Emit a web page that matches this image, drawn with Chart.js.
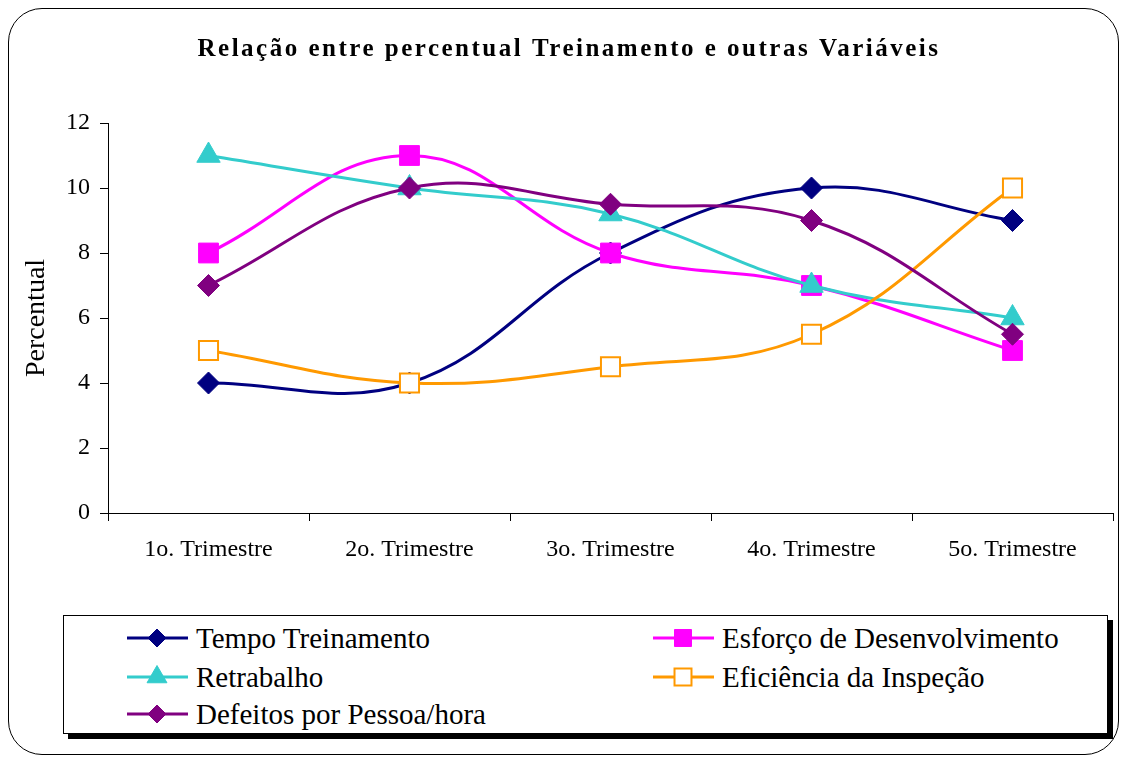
<!DOCTYPE html>
<html>
<head>
<meta charset="utf-8">
<script src="https://cdn.jsdelivr.net/npm/chart.js@4.4.1/dist/chart.umd.min.js"></script>
<style>
  html,body{margin:0;padding:0;background:#fff;}
  body{width:1122px;height:757px;position:relative;overflow:hidden;font-family:"Liberation Serif","Times New Roman",serif;}
  #frame{position:absolute;left:8px;top:8px;width:1111px;height:747px;border:1px solid #000;border-radius:34px;box-sizing:border-box;}
  #wrap{position:absolute;left:0;top:0;width:1122px;height:600px;}
  #legend{position:absolute;left:63px;top:615px;width:1045px;height:119px;border:1px solid #000;box-sizing:border-box;background:#fff;box-shadow:5px 5px 0 #000;}
  .item{position:absolute;height:34px;display:flex;align-items:center;font-size:29px;color:#000;white-space:nowrap;}
  .item canvas{margin-right:7px;}
</style>
</head>
<body>
<div id="frame"></div>
<div id="wrap"><canvas id="c" width="1122" height="600"></canvas></div>
<div id="legend"></div>
<script>
const chartTitle = 'Relação entre percentual Treinamento e outras Variáveis';
const yTitle = 'Percentual';
const categories = ["1o. Trimestre","2o. Trimestre","3o. Trimestre","4o. Trimestre","5o. Trimestre"];
const tempoTreinamento = [4, 4, 8, 10, 9];
const esforcoDesenvolvimento = [8, 11, 8, 7, 5];
const retrabalho = [11, 10, 9.2, 7, 6];
const eficienciaInspecao = [5, 4, 4.5, 5.5, 10];
const defeitosPessoaHora = [7, 10, 9.5, 9, 5.5];
const seriesNames = ["Tempo Treinamento","Esforço de Desenvolvimento","Retrabalho","Eficiência da Inspeção","Defeitos por Pessoa/hora"];
const yTicks = [0, 2, 4, 6, 8, 10, 12];

const FONT = "'Liberation Serif', 'Times New Roman', serif";

function ds(label, data, color, style, radius, fill, legendRadius) {
  return {
    label, data,
    borderColor: color,
    backgroundColor: color,
    pointBackgroundColor: fill,
    pointBorderColor: color,
    pointStyle: style,
    pointRadius: radius,
    pointHoverRadius: radius,
    pointBorderWidth: fill === '#fff' ? 2 : 1,
    borderWidth: 3,
    tension: 0.4,
    fill: false,
    legendRadius
  };
}

const datasets = [
  ds(seriesNames[0], tempoTreinamento, '#000080', 'rectRot', 11, '#000080', 9),
  ds(seriesNames[1], esforcoDesenvolvimento, '#FF00FF', 'rect', 14, '#FF00FF', 12),
  ds(seriesNames[2], retrabalho, '#33CCCC', 'triangle', 13.5, '#33CCCC', 11.5),
  ds(seriesNames[3], eficienciaInspecao, '#FF9900', 'rect', 13.5, '#fff', 12),
  ds(seriesNames[4], defeitosPessoaHora, '#800080', 'rectRot', 11, '#800080', 9)
];
datasets.forEach((d,i)=>{ d.order = datasets.length - i; });

const titlePlugin = {
  id: 'spacedTitle',
  afterDraw(chart) {
    const ctx = chart.ctx;
    ctx.save();
    ctx.font = "bold 25px " + FONT;
    if ('letterSpacing' in ctx) ctx.letterSpacing = '2.5px';
    ctx.fillStyle = '#000';
    ctx.textAlign = 'center';
    ctx.textBaseline = 'middle';
    ctx.fillText(chartTitle, 569, 50);
    ctx.restore();
  }
};

const chart = new Chart(document.getElementById('c'), {
  type: 'line',
  data: { labels: categories, datasets },
  plugins: [titlePlugin],
  options: {
    responsive: false,
    animation: false,
    layout: { autoPadding: false, padding: { left: 20, right: 9, top: 123, bottom: 0 } },
    plugins: {
      legend: { display: false },
      tooltip: { enabled: false },
      title: { display: false }
    },
    scales: {
      x: {
        offset: true,
        grid: { display: true, drawOnChartArea: false, offset: true, tickLength: 8, color: '#000' },
        border: { display: true, color: '#000', width: 1 },
        ticks: { color: '#000', font: { family: FONT, size: 24 }, padding: 14, maxRotation: 0 },
        afterFit: (s) => { s.height = 87; s.paddingLeft = 0; s.paddingRight = 0; }
      },
      y: {
        min: 0, max: 12,
        afterBuildTicks: (s) => { s.ticks = yTicks.map(v => ({ value: v })); },
        grid: { display: true, drawOnChartArea: false, tickLength: 8, color: '#000' },
        border: { display: true, color: '#000', width: 1 },
        ticks: { color: '#000', font: { family: FONT, size: 24 }, padding: 10 },
        title: { display: true, text: yTitle, color: '#000', font: { family: FONT, size: 28 }, padding: 0 },
        afterFit: (s) => { s.width = 88; }
      }
    }
  }
});

// HTML legend built from chart datasets
const legend = document.getElementById('legend');
const pos = [[63,5],[589,5],[63,44],[589,44],[63,81]];
chart.data.datasets.forEach((d, i) => {
  const item = document.createElement('div');
  item.className = 'item';
  item.style.left = pos[i][0] + 'px';
  item.style.top = pos[i][1] + 'px';
  const cv = document.createElement('canvas');
  cv.width = 62; cv.height = 30;
  const ctx = cv.getContext('2d');
  ctx.strokeStyle = d.borderColor; ctx.lineWidth = 3;
  ctx.beginPath(); ctx.moveTo(0, 15); ctx.lineTo(61, 15); ctx.stroke();
  ctx.fillStyle = d.pointBackgroundColor; ctx.strokeStyle = d.pointBorderColor; ctx.lineWidth = d.pointBorderWidth;
  Chart.helpers.drawPoint(ctx, { pointStyle: d.pointStyle, radius: d.legendRadius, rotation: 0, borderWidth: d.pointBorderWidth }, 30, 15);
  item.appendChild(cv);
  const span = document.createElement('span');
  span.textContent = d.label;
  item.appendChild(span);
  legend.appendChild(item);
});
</script>
</body>
</html>
